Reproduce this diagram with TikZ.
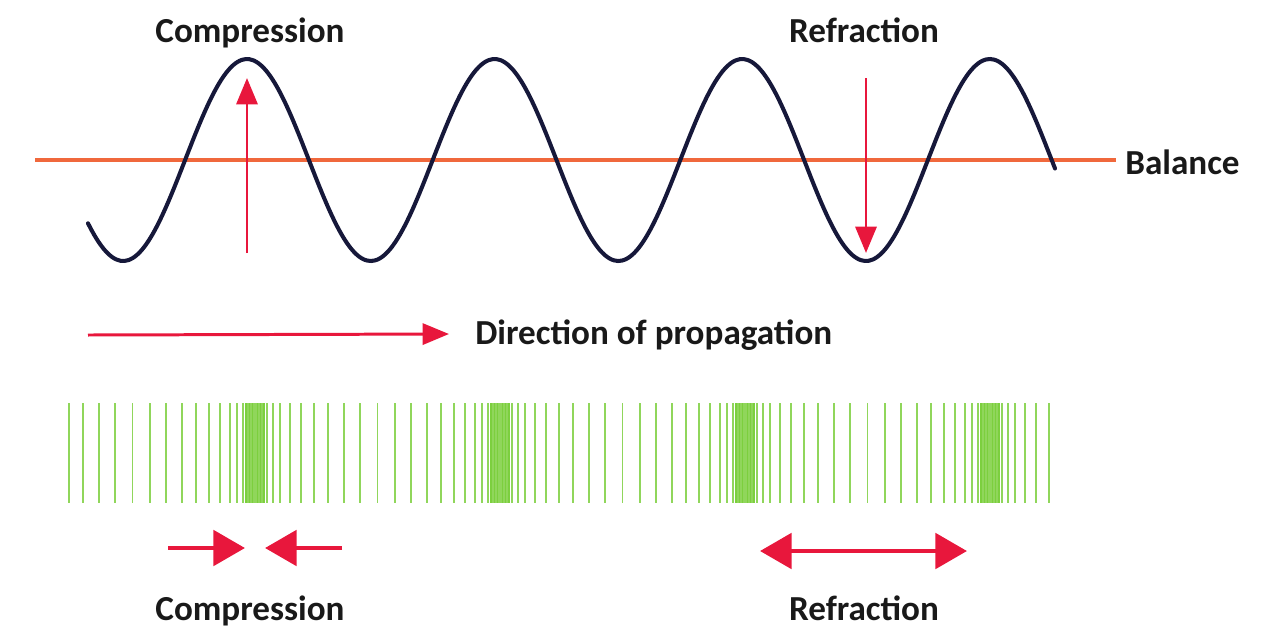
\documentclass[tikz,border=0pt]{standalone}
\usepackage{fontspec}
\setmainfont{Carlito}
\usepackage{tikz}
\usetikzlibrary{arrows.meta,positioning}
\usepackage{xcolor}
\definecolor{wnavy}{HTML}{16183A}
\definecolor{wred}{HTML}{E8173C}
\definecolor{worange}{HTML}{F0683C}
\definecolor{wgreen}{HTML}{7CCF3E}
\tikzset{
  wave/.style={wnavy,line width=2.3pt,line cap=round},
  balance/.style={worange,line width=2.2pt},
  strip/.style={wgreen!85,line width=1.1pt},
  block/.style={fill=wgreen},
  lbl/.style={font=\bfseries\fontsize{20}{24}\selectfont,text=black!90,inner sep=0pt},
  arr/.style={wred,line width=1.7pt,-{Triangle[length=15pt,width=12pt]}},
  bigarr/.style={wred,line width=2.8pt,-{Triangle[length=18pt,width=20pt]}},
}

\begin{document}
\begin{tikzpicture}[x=0.02cm,y=-0.02cm]
    \useasboundingbox (0,0) rectangle (1276,630);
    % balance line
    \draw[balance] (35,160) -- (1116,160);
    \node[lbl,anchor=base west] (bal) at (1125,174) {Balance};
    % transverse wave
    \draw[wave] plot[domain=88:1055,samples=240,smooth]
      (\x,{160-101*cos((\x-247)/247.6*360)});
    % labels
    \node[lbl,anchor=base] (comp top) at (250,42) {Compression};
    \node[lbl,anchor=base] (refr top) at (864,42) {Refraction};
    \node[lbl,anchor=base west] (dir) at (475,344) {Direction of propagation};
    \node[lbl,anchor=base] (comp bot) at (250,620) {Compression};
    \node[lbl,anchor=base] (refr bot) at (864,620) {Refraction};
    % displacement arrows
    \coordinate (up s) at (247,253);
    \coordinate (up e) at (247,78);
    \coordinate (dn s) at (866,78);
    \coordinate (dn e) at (866,253);
    \draw[arr] (up s) -- (up e);
    \draw[arr] (dn s) -- (dn e);
    % propagation
    \coordinate (prop s) at (88,335);
    \coordinate (prop e) at (449,334);
    \draw[arr] (prop s) -- (prop e);
    % longitudinal wave: dense blocks
    \foreach \c in {255,500,745,990}
      \fill[block] (\c-10,403) rectangle (\c+10,503);
    % longitudinal wave: single strips
    \foreach \i in {-22,...,86} {
      \pgfmathsetmacro\xo{255+9.8*(\i+0.5)}
      \pgfmathsetmacro\xx{\xo-29.2*sin((\xo-255)/245*360)}
      \ifdim\xx pt>66pt\relax\ifdim\xx pt<1057pt\relax
        \draw[strip] (\xx,403) -- (\xx,503);
      \fi\fi
    }
    % compression / refraction arrows
    \coordinate (cl s) at (168,548);
    \coordinate (cl e) at (245,548);
    \coordinate (cr s) at (342,548);
    \coordinate (cr e) at (265,548);
    \draw[bigarr] (cl s) -- (cl e);
    \draw[bigarr] (cr s) -- (cr e);
    \coordinate (rf l) at (760,551);
    \coordinate (rf r) at (967,551);
    \draw[bigarr,{Triangle[length=18pt,width=20pt]}-{Triangle[length=18pt,width=20pt]}] (rf l) -- (rf r);
\end{tikzpicture}
\end{document}
